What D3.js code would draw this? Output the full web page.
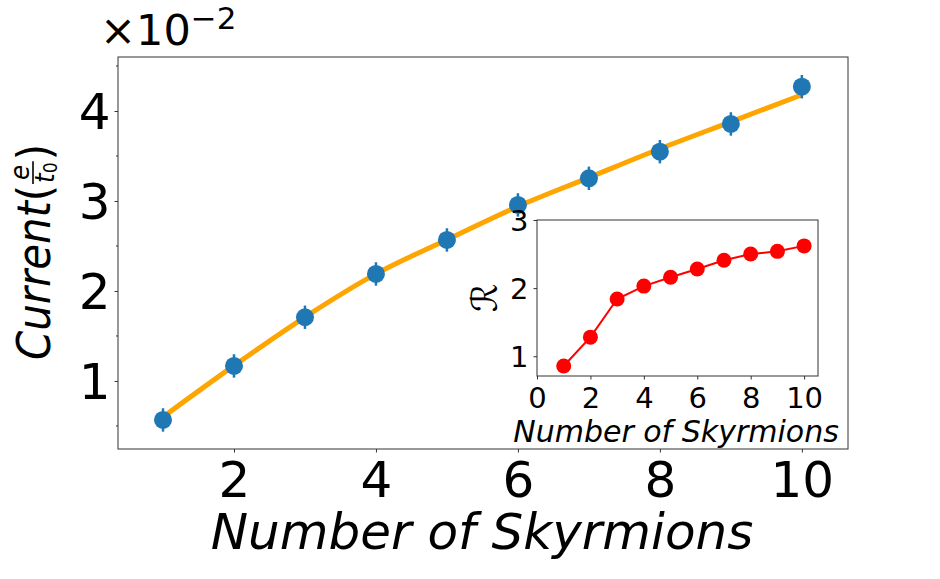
<!DOCTYPE html>
<html lang="en">
<head>
<meta charset="UTF-8">
<title>Current vs Number of Skyrmions</title>
<script src="https://d3js.org/d3.v7.min.js"></script>
<style>
    body { margin: 0; background: #fff; }
    svg { display: block; font-family: "DejaVu Sans", sans-serif; }
    .frame { fill: none; stroke: #333; stroke-width: 1px; }
    .tick line { stroke: #333; stroke-width: 1px; }
</style>
</head>
<body>
<svg id="chart" width="940" height="579"></svg>
<script>
// main plot: current (units of 1e-2 e/t0)
const skyrmions = [1, 2, 3, 4, 5, 6, 7, 8, 9, 10];
const current = [0.567, 1.167, 1.708, 2.189, 2.567, 2.956, 3.252, 3.548, 3.856, 4.27];
const currentErr = [0.13, 0.13, 0.13, 0.13, 0.13, 0.13, 0.13, 0.13, 0.13, 0.13];
const fitCurrent = [0.6, 1.17, 1.71, 2.19, 2.57, 2.94, 3.26, 3.58, 3.88, 4.18];
const mainXTicks = [2, 4, 6, 8, 10];
const mainYTicks = [1, 2, 3, 4];
const mainYMinor = [0.5, 1.5, 2.5, 3.5, 4.5];

// inset: ratio R
const ratio = [0.857, 1.28, 1.84, 2.03, 2.16, 2.28, 2.41, 2.50, 2.54, 2.62];
const insetXTicks = [0, 2, 4, 6, 8, 10];
const insetYTicks = [1, 2, 3];

const svg = d3.select('#chart');
const font = '"DejaVu Sans", sans-serif';

// ---- main axes ----
const main = { left: 118, right: 848, top: 57, bottom: 449 };
const x = d3.scaleLinear().domain([0.366, 10.65]).range([main.left, main.right]);
const y = d3.scaleLinear().domain([0.244, 4.6]).range([main.bottom, main.top]);

const gMain = svg.append('g');

// orange fit line
gMain.append('path')
    .datum(skyrmions.map((s, i) => [s, fitCurrent[i]]))
    .attr('fill', 'none')
    .attr('stroke', 'orange')
    .attr('stroke-width', 5)
    .attr('d', d3.line().x(d => x(d[0])).y(d => y(d[1])).curve(d3.curveMonotoneX));

// error bars + markers
const pts = gMain.selectAll('.pt')
    .data(skyrmions.map((s, i) => ({ s, v: current[i], e: currentErr[i] })))
    .enter().append('g').attr('class', 'pt');
pts.append('line')
    .attr('x1', d => x(d.s)).attr('x2', d => x(d.s))
    .attr('y1', d => y(d.v - d.e)).attr('y2', d => y(d.v + d.e))
    .attr('stroke', '#1f77b4').attr('stroke-width', 2.5);
pts.append('circle')
    .attr('cx', d => x(d.s)).attr('cy', d => y(d.v))
    .attr('r', 9).attr('fill', '#1f77b4');

// main axes
const xAxis = d3.axisBottom(x).tickValues(mainXTicks).tickSize(3.5).tickPadding(7).tickFormat(d3.format('d'));
const gx = gMain.append('g').attr('transform', `translate(0,${main.bottom})`).call(xAxis);
gx.select('.domain').remove();
gx.selectAll('text').attr('font-family', font).attr('font-size', 50).attr('fill', '#000').attr('dy', '0.75em');

const yAxis = d3.axisLeft(y).tickValues(mainYTicks).tickSize(3.5).tickPadding(4).tickFormat(d3.format('d'));
const gy = gMain.append('g').attr('transform', `translate(${main.left},0)`).call(yAxis);
gy.select('.domain').remove();
gy.selectAll('text').attr('font-family', font).attr('font-size', 50).attr('fill', '#000').attr('dy', '0.36em');

gMain.append('g').selectAll('line').data(mainYMinor).enter().append('line')
    .attr('x1', main.left - 2).attr('x2', main.left)
    .attr('y1', d => y(d)).attr('y2', d => y(d))
    .attr('stroke', '#333');

gMain.append('rect').attr('class', 'frame')
    .attr('x', main.left).attr('y', main.top)
    .attr('width', main.right - main.left).attr('height', main.bottom - main.top);

// offset text ×10^-2
const off = svg.append('text').attr('x', 100).attr('y', 45)
    .attr('font-family', font).attr('font-size', 43).attr('fill', '#000');
off.append('tspan').text('×10');
off.append('tspan').attr('font-size', 31).attr('dy', -16).text('−2');

// x label
svg.append('text')
    .attr('x', (212 + 752) / 2).attr('y', 549)
    .attr('text-anchor', 'middle')
    .attr('font-family', font).attr('font-size', 50).attr('font-style', 'italic')
    .text('Number of Skyrmions');

// y label: Current(e / t0)
const yl = svg.append('g').attr('transform', 'translate(50,360) rotate(-90) scale(0.91,1)')
    .attr('font-family', font).attr('fill', '#000');
const cur = yl.append('text').attr('x', 0).attr('y', 0)
    .attr('font-size', 46).attr('font-style', 'italic').text('Current');
let pos = cur.node().getComputedTextLength();
const lp = yl.append('text').attr('x', pos).attr('y', 0).attr('font-size', 46).text('(');
pos += lp.node().getComputedTextLength() + 1;
const fracW = 25;
yl.append('text').attr('x', pos + fracW / 2).attr('y', -21).attr('text-anchor', 'middle')
    .attr('font-size', 27).attr('font-style', 'italic').text('e');
yl.append('line').attr('x1', pos).attr('x2', pos + fracW).attr('y1', -17).attr('y2', -17)
    .attr('stroke', '#000').attr('stroke-width', 1.6);
const t0 = yl.append('text').attr('x', pos + 1).attr('y', 4)
    .attr('font-size', 27).attr('font-style', 'italic');
t0.append('tspan').text('t');
t0.append('tspan').attr('font-size', 19).attr('font-style', 'normal').attr('dy', 3).text('0');
pos += fracW + 1;
yl.append('text').attr('x', pos).attr('y', 0).attr('font-size', 46).text(')');

// ---- inset axes ----
const ins = { left: 537, right: 818, top: 220, bottom: 376 };
const xi = d3.scaleLinear().domain([0, 10.52]).range([ins.left, ins.right]);
const yi = d3.scaleLinear().domain([0.71, 3.0]).range([ins.bottom, ins.top]);

const gIns = svg.append('g');
gIns.append('rect').attr('x', ins.left).attr('y', ins.top)
    .attr('width', ins.right - ins.left).attr('height', ins.bottom - ins.top).attr('fill', '#fff');

gIns.append('path')
    .datum(skyrmions.map((s, i) => [s, ratio[i]]))
    .attr('fill', 'none').attr('stroke', 'red').attr('stroke-width', 2)
    .attr('d', d3.line().x(d => xi(d[0])).y(d => yi(d[1])));
gIns.selectAll('.rp').data(skyrmions.map((s, i) => [s, ratio[i]]))
    .enter().append('circle').attr('class', 'rp')
    .attr('cx', d => xi(d[0])).attr('cy', d => yi(d[1]))
    .attr('r', 7.5).attr('fill', 'red');

const xiAxis = d3.axisBottom(xi).tickValues(insetXTicks).tickSize(3.5).tickPadding(5).tickFormat(d3.format('d'));
const gxi = gIns.append('g').attr('transform', `translate(0,${ins.bottom})`).call(xiAxis);
gxi.select('.domain').remove();
gxi.selectAll('text').attr('font-family', font).attr('font-size', 29).attr('fill', '#000').attr('dy', '0.82em');

const yiAxis = d3.axisLeft(yi).tickValues(insetYTicks).tickSize(3.5).tickPadding(5).tickFormat(d3.format('d'));
const gyi = gIns.append('g').attr('transform', `translate(${ins.left},0)`).call(yiAxis);
gyi.select('.domain').remove();
gyi.selectAll('text').attr('font-family', font).attr('font-size', 29).attr('fill', '#000').attr('dy', '0.36em');

gIns.append('rect').attr('class', 'frame')
    .attr('x', ins.left).attr('y', ins.top)
    .attr('width', ins.right - ins.left).attr('height', ins.bottom - ins.top);

gIns.append('text')
    .attr('x', 676).attr('y', 442).attr('text-anchor', 'middle')
    .attr('font-family', font).attr('font-size', 30).attr('font-style', 'italic')
    .text('Number of Skyrmions');

gIns.append('text')
    .attr('transform', 'translate(497,298) rotate(-90)')
    .attr('text-anchor', 'middle')
    .attr('font-family', font).attr('font-size', 36)
    .text('ℛ');
</script>
</body>
</html>
